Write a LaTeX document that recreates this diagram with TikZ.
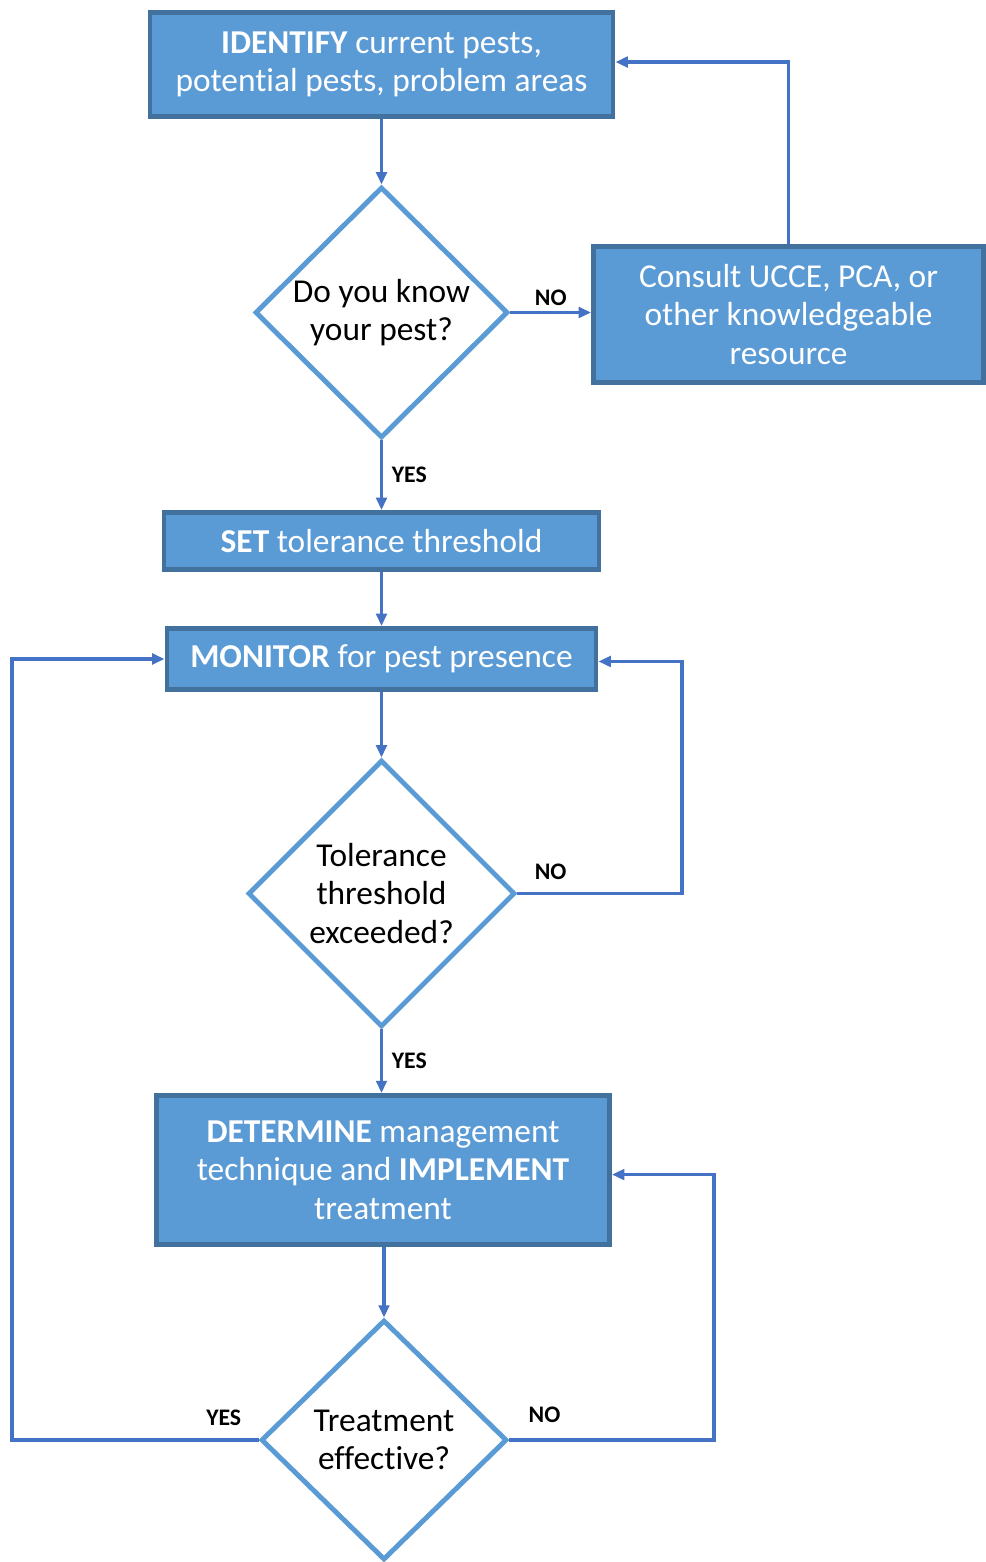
\documentclass[tikz,border=0pt]{standalone}
\usepackage{fontspec}
\setmainfont{Carlito}[Ligatures=NoCommon]
\usepackage{tikz}
\usetikzlibrary{positioning,arrows.meta,shapes.geometric}
\definecolor{boxfill}{RGB}{91,155,213}
\definecolor{boxedge}{RGB}{65,113,156}
\definecolor{linkblue}{RGB}{68,114,196}
\tikzset{
>={Triangle[length=7pt,width=6pt]},
  actbox/.style={
    rectangle,
    fill=boxfill,
    draw=boxedge, line width=2.8pt,
    text=white,
    font=\fontsize{19}{22}\selectfont,
    align=center,
    inner sep=0pt},
  decision/.style={
    diamond,
    fill=white,
    draw=boxfill, line width=2.8pt,
    font=\fontsize{19}{22}\selectfont,
    align=center,
    inner sep=0pt},
  line/.style={draw=linkblue, line width=1.8pt, ->},
  answer/.style={font=\fontsize{13.5}{15}\selectfont\bfseries, inner sep=1pt},
}

\begin{document}
\begin{tikzpicture}
    \useasboundingbox (0,0) rectangle (19.72,-31.24);

      % boxes
      \node[actbox, minimum width=9.26cm, minimum height=2.08cm] (identify) at (7.63,-1.29)
        {\textbf{IDENTIFY} current pests,\\potential pests, problem areas};
      \node[actbox, minimum width=7.8cm, minimum height=2.72cm] (consult) at (15.77,-6.29)
        {Consult UCCE, PCA, or\\other knowledgeable\\resource};
      \node[actbox, minimum width=8.7cm, minimum height=1.14cm] (set) at (7.63,-10.82)
        {\textbf{SET} tolerance threshold};
      \node[actbox, minimum width=8.58cm, minimum height=1.22cm] (monitor) at (7.63,-13.18)
        {\textbf{MONITOR} for pest presence};
      \node[actbox, minimum width=9.06cm, minimum height=2.98cm] (determine) at (7.66,-23.40)
        {\textbf{DETERMINE} management\\technique and \textbf{IMPLEMENT}\\treatment};

      % decisions
      \node[decision, minimum width=5.06cm, minimum height=5.02cm] (know) at (7.63,-6.25)
        {Do you know\\your pest?};
      \node[decision, minimum width=5.34cm, minimum height=5.34cm] (exceed) at (7.63,-17.87)
        {Tolerance\\threshold\\exceeded?};
      \node[decision, minimum width=4.92cm, minimum height=4.8cm] (effect) at (7.68,-28.80)
        {Treatment\\effective?};

      \coordinate (monback) at (13.64,-13.26);
      \coordinate (detback) at (14.28,-23.56);
      \coordinate (leftback) at (0.24,-13.20);

      % connectors
      \draw[line] (identify) -- (know);
      \draw[line] (know.east) -- (know.east -| consult.west)
        node[midway, above=2pt, answer] {NO};
      \draw[line] (consult.north) |- ([yshift=1.4pt]identify.east);
      \draw[line] (know) -- (set) node[midway, right=4pt, answer] {YES};
      \draw[line] (set) -- (monitor);
      \draw[line] (monitor) -- (exceed);
      \draw[line] (exceed.east) node[answer, above right=6pt and 8pt] {NO}
        -- (exceed.east -| monback) |- ([yshift=-1.4pt]monitor.east);
      \draw[line] (exceed.south) -- (exceed.south |- determine.north)
        node[midway, right=4pt, answer] {YES};
      \draw[line] (determine.south -| effect.north) -- (effect.north);
      \draw[line] (effect.east) node[answer, above right=8pt and 9pt] {NO}
        -- (effect.east -| detback) |- ([yshift=-2.6pt]determine.east);
      \draw[line] (effect.west) node[answer, above left=6pt and 8pt] {YES}
        -- (effect.west -| leftback) |- (monitor.west);
\end{tikzpicture}
\end{document}
